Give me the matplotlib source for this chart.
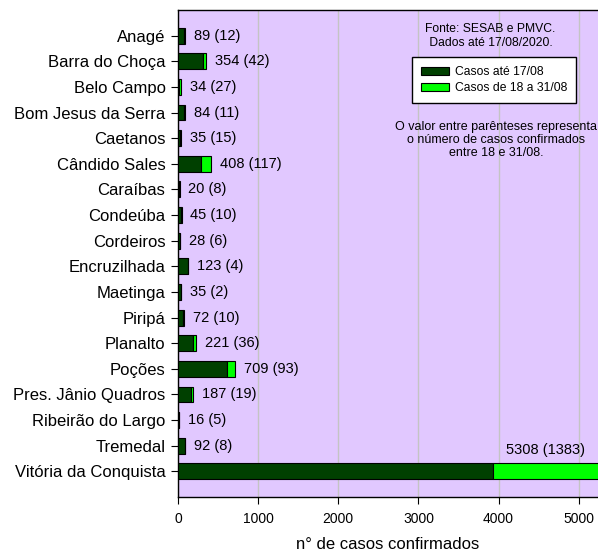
import matplotlib
matplotlib.use("Agg")
import matplotlib.pyplot as plt
import numpy as np

plt.rcParams['font.family'] = ['Liberation Sans', 'DejaVu Sans']

municipios = ["Anagé", "Barra do Choça", "Belo Campo", "Bom Jesus da Serra", "Caetanos",
              "Cândido Sales", "Caraíbas", "Condeúba", "Cordeiros", "Encruzilhada",
              "Maetinga", "Piripá", "Planalto", "Poções", "Pres. Jânio Quadros",
              "Ribeirão do Largo", "Tremedal", "Vitória da Conquista"]
total = [89, 354, 34, 84, 35, 408, 20, 45, 28, 123, 35, 72, 221, 709, 187, 16, 92, 5308]
novos = [12, 42, 27, 11, 15, 117, 8, 10, 6, 4, 2, 10, 36, 93, 19, 5, 8, 1383]
ate_17 = [t - n for t, n in zip(total, novos)]

DARK = "#004000"
LIGHT = "#00FF00"
BG = "#E1C8FF"

fig = plt.figure(figsize=(5.98, 5.52), dpi=100)
ax = fig.add_axes([178/598, 55/552, 420/598, 487/552])
ax.set_facecolor(BG)

y = np.arange(len(municipios))
h = 0.62
ax.barh(y, ate_17, height=h, color=DARK, edgecolor="black", linewidth=0.8,
        label="Casos até 17/08", zorder=3)
ax.barh(y, novos, left=ate_17, height=h, color=LIGHT, edgecolor="black", linewidth=0.8,
        label="Casos de 18 a 31/08", zorder=3)

xmax = 5240
for i, (t, n) in enumerate(zip(total, novos)):
    txt = f"{t} ({n})"
    if t > xmax * 0.8:
        ax.text(4580, i - 0.85, txt, ha="center", va="center", fontsize=10.5, zorder=4)
    else:
        ax.text(t + 110, i, txt, ha="left", va="center", fontsize=10.5, zorder=4)

ax.set_xlim(0, xmax)
ax.set_ylim(len(municipios), -1)
ax.set_yticks(y)
ax.set_yticklabels(municipios, fontsize=12)
ax.set_xticks([0, 1000, 2000, 3000, 4000, 5000])
ax.tick_params(axis="x", labelsize=10, length=5, direction="out", pad=6)
ax.tick_params(axis="y", length=5, direction="out", pad=4)
ax.xaxis.grid(True, color="#C4C4C4", linewidth=1, zorder=0)
ax.set_axisbelow(True)
ax.set_xlabel("n° de casos confirmados", fontsize=12, labelpad=8)
for s in ["left", "bottom", "top"]:
    ax.spines[s].set_color("black")
    ax.spines[s].set_linewidth(1)
ax.spines["right"].set_visible(False)

ax.text(3890, -0.5, "Fonte: SESAB e PMVC.\n Dados até 17/08/2020.", ha="center", va="top",
        fontsize=8.7, linespacing=1.2, zorder=4)
leg = ax.legend(loc="upper left", bbox_to_anchor=(228/420, 1 - 41/487), fontsize=8.7,
                frameon=True, fancybox=False, edgecolor="black", framealpha=1,
                handlelength=2.3, handleheight=0.65, borderpad=0.75, labelspacing=0.35,
                handletextpad=0.5)
leg.get_frame().set_linewidth(1)
ax.text(3970, 3.35, "O valor entre parênteses representa\no número de casos confirmados\nentre 18 e 31/08.",
        ha="center", va="top", fontsize=9, linespacing=1.1, zorder=4)

fig.savefig("out.png", dpi=100, facecolor="white")
